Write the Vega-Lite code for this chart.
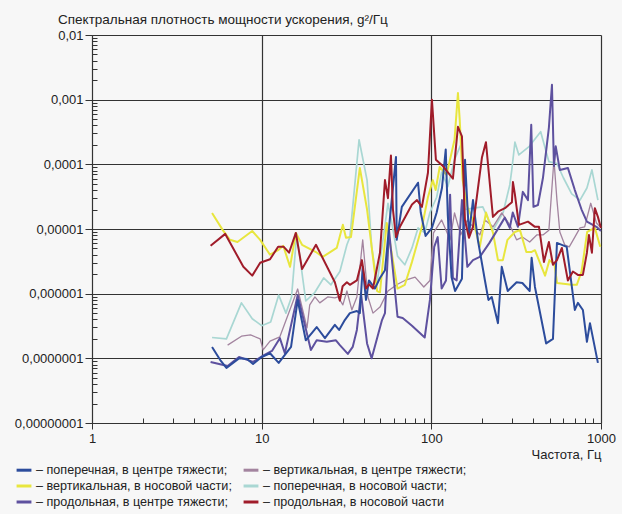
{
"$schema": "https://vega.github.io/schema/vega-lite/v6.json",
"width": 509, "height": 388,
"autosize": {"type": "none"},
"padding": {"left": 92, "top": 35, "right": 21, "bottom": 91},
"background": "#f7f7f7",
"config": {"view": {"stroke": null}, "font": "Liberation Sans"},
"title": {"text": "Спектральная плотность мощности ускорения, g²/Гц", "anchor": "start", "frame": "group", "dx": -34, "offset": 3, "fontSize": 13.5, "fontWeight": "normal", "color": "#222"},
"data": {"values": [
{"freq":5.1,"psd":2.1e-7,"series":"поперечная, в носовой части"},
{"freq":6.2,"psd":2.0e-7,"series":"поперечная, в носовой части"},
{"freq":7.6,"psd":7.2e-7,"series":"поперечная, в носовой части"},
{"freq":8.8,"psd":4.1e-7,"series":"поперечная, в носовой части"},
{"freq":10.0,"psd":3.2e-7,"series":"поперечная, в носовой части"},
{"freq":11.3,"psd":3.65e-7,"series":"поперечная, в носовой части"},
{"freq":12.6,"psd":9.5e-7,"series":"поперечная, в носовой части"},
{"freq":13.9,"psd":5.0e-7,"series":"поперечная, в носовой части"},
{"freq":15.0,"psd":8.9e-7,"series":"поперечная, в носовой части"},
{"freq":16.1,"psd":8.4e-6,"series":"поперечная, в носовой части"},
{"freq":18.2,"psd":7.7e-7,"series":"поперечная, в носовой части"},
{"freq":20.6,"psd":1.05e-6,"series":"поперечная, в носовой части"},
{"freq":23.2,"psd":1.75e-6,"series":"поперечная, в носовой части"},
{"freq":25.6,"psd":1.37e-6,"series":"поперечная, в носовой части"},
{"freq":28.9,"psd":2.2e-6,"series":"поперечная, в носовой части"},
{"freq":31.8,"psd":5.7e-6,"series":"поперечная, в носовой части"},
{"freq":33.1,"psd":7.5e-6,"series":"поперечная, в носовой части"},
{"freq":37.5,"psd":2.4e-4,"series":"поперечная, в носовой части"},
{"freq":41.8,"psd":5.7e-5,"series":"поперечная, в носовой части"},
{"freq":44.5,"psd":5.3e-6,"series":"поперечная, в носовой части"},
{"freq":47.9,"psd":1.46e-6,"series":"поперечная, в носовой части"},
{"freq":55.5,"psd":2.5e-5,"series":"поперечная, в носовой части"},
{"freq":58.5,"psd":1.24e-5,"series":"поперечная, в носовой части"},
{"freq":63.2,"psd":3.8e-6,"series":"поперечная, в носовой части"},
{"freq":69.8,"psd":2.8e-6,"series":"поперечная, в носовой части"},
{"freq":76.9,"psd":5.1e-6,"series":"поперечная, в носовой части"},
{"freq":83.5,"psd":1.04e-5,"series":"поперечная, в носовой части"},
{"freq":91.4,"psd":8.7e-6,"series":"поперечная, в носовой части"},
{"freq":98.1,"psd":1.8e-5,"series":"поперечная, в носовой части"},
{"freq":107.5,"psd":3.1e-5,"series":"поперечная, в носовой части"},
{"freq":115,"psd":7.6e-5,"series":"поперечная, в носовой части"},
{"freq":125,"psd":4.5e-5,"series":"поперечная, в носовой части"},
{"freq":137,"psd":1.18e-4,"series":"поперечная, в носовой части"},
{"freq":151.5,"psd":2.2e-4,"series":"поперечная, в носовой части"},
{"freq":158,"psd":2.0e-5,"series":"поперечная, в носовой части"},
{"freq":176,"psd":2.1e-5,"series":"поперечная, в носовой части"},
{"freq":201,"psd":2.2e-5,"series":"поперечная, в носовой части"},
{"freq":231,"psd":9.6e-6,"series":"поперечная, в носовой части"},
{"freq":265,"psd":1.8e-5,"series":"поперечная, в носовой части"},
{"freq":290,"psd":4.8e-5,"series":"поперечная, в носовой части"},
{"freq":298,"psd":8.2e-5,"series":"поперечная, в носовой части"},
{"freq":311,"psd":2.2e-4,"series":"поперечная, в носовой части"},
{"freq":328,"psd":1.4e-4,"series":"поперечная, в носовой части"},
{"freq":378,"psd":1.9e-4,"series":"поперечная, в носовой части"},
{"freq":441,"psd":3.2e-4,"series":"поперечная, в носовой части"},
{"freq":493,"psd":1.1e-4,"series":"поперечная, в носовой части"},
{"freq":550,"psd":1.03e-4,"series":"поперечная, в носовой части"},
{"freq":600,"psd":6.2e-5,"series":"поперечная, в носовой части"},
{"freq":672,"psd":3.5e-5,"series":"поперечная, в носовой части"},
{"freq":752,"psd":2.8e-5,"series":"поперечная, в носовой части"},
{"freq":826,"psd":4.3e-5,"series":"поперечная, в носовой части"},
{"freq":884,"psd":8.2e-5,"series":"поперечная, в носовой части"},
{"freq":959,"psd":2.8e-5,"series":"поперечная, в носовой части"},

{"freq":6.3,"psd":1.6e-7,"series":"вертикальная, в центре тяжести"},
{"freq":7.6,"psd":2.2e-7,"series":"вертикальная, в центре тяжести"},
{"freq":8.6,"psd":2.3e-7,"series":"вертикальная, в центре тяжести"},
{"freq":9.8,"psd":2.0e-7,"series":"вертикальная, в центре тяжести"},
{"freq":10.2,"psd":1.35e-7,"series":"вертикальная, в центре тяжести"},
{"freq":11.2,"psd":1.85e-7,"series":"вертикальная, в центре тяжести"},
{"freq":12.8,"psd":2.15e-7,"series":"вертикальная, в центре тяжести"},
{"freq":16.3,"psd":1.18e-6,"series":"вертикальная, в центре тяжести"},
{"freq":18.5,"psd":2.95e-7,"series":"вертикальная, в центре тяжести"},
{"freq":19.2,"psd":6.7e-7,"series":"вертикальная, в центре тяжести"},
{"freq":20.6,"psd":8.9e-7,"series":"вертикальная, в центре тяжести"},
{"freq":22.0,"psd":7.2e-7,"series":"вертикальная, в центре тяжести"},
{"freq":24.5,"psd":8.9e-7,"series":"вертикальная, в центре тяжести"},
{"freq":27.0,"psd":8.6e-7,"series":"вертикальная, в центре тяжести"},
{"freq":28.2,"psd":8.9e-7,"series":"вертикальная, в центре тяжести"},
{"freq":30.1,"psd":6.7e-7,"series":"вертикальная, в центре тяжести"},
{"freq":31.8,"psd":1.1e-6,"series":"вертикальная, в центре тяжести"},
{"freq":34.0,"psd":5.6e-7,"series":"вертикальная, в центре тяжести"},
{"freq":36.4,"psd":8.9e-7,"series":"вертикальная, в центре тяжести"},
{"freq":39.4,"psd":6.8e-6,"series":"вертикальная, в центре тяжести"},
{"freq":42.3,"psd":8.9e-7,"series":"вертикальная, в центре тяжести"},
{"freq":45.3,"psd":5.0e-7,"series":"вертикальная, в центре тяжести"},
{"freq":49.8,"psd":6.2e-7,"series":"вертикальная, в центре тяжести"},
{"freq":55.5,"psd":1.1e-6,"series":"вертикальная, в центре тяжести"},
{"freq":63.2,"psd":1.4e-6,"series":"вертикальная, в центре тяжести"},
{"freq":69.8,"psd":1.6e-6,"series":"вертикальная, в центре тяжести"},
{"freq":80.2,"psd":1.8e-6,"series":"вертикальная, в центре тяжести"},
{"freq":90.3,"psd":1.27e-6,"series":"вертикальная, в центре тяжести"},
{"freq":98.1,"psd":1.6e-6,"series":"вертикальная, в центре тяжести"},
{"freq":103,"psd":8.7e-6,"series":"вертикальная, в центре тяжести"},
{"freq":115,"psd":1.38e-5,"series":"вертикальная, в центре тяжести"},
{"freq":129,"psd":6.8e-6,"series":"вертикальная, в центре тяжести"},
{"freq":137,"psd":1.77e-5,"series":"вертикальная, в центре тяжести"},
{"freq":149,"psd":8.1e-6,"series":"вертикальная, в центре тяжести"},
{"freq":163,"psd":1.38e-5,"series":"вертикальная, в центре тяжести"},
{"freq":176,"psd":1.08e-5,"series":"вертикальная, в центре тяжести"},
{"freq":193,"psd":8.1e-6,"series":"вертикальная, в центре тяжести"},
{"freq":207,"psd":1.38e-5,"series":"вертикальная, в центре тяжести"},
{"freq":231,"psd":1.08e-5,"series":"вертикальная, в центре тяжести"},
{"freq":260,"psd":1.77e-5,"series":"вертикальная, в центре тяжести"},
{"freq":290,"psd":1.16e-5,"series":"вертикальная, в центре тяжести"},
{"freq":318,"psd":6.8e-6,"series":"вертикальная, в центре тяжести"},
{"freq":344,"psd":7.5e-6,"series":"вертикальная, в центре тяжести"},
{"freq":380,"psd":6.3e-6,"series":"вертикальная, в центре тяжести"},
{"freq":418,"psd":8.1e-6,"series":"вертикальная, в центре тяжести"},
{"freq":455,"psd":8.1e-6,"series":"вертикальная, в центре тяжести"},
{"freq":493,"psd":9.6e-6,"series":"вертикальная, в центре тяжести"},
{"freq":528,"psd":1.18e-4,"series":"вертикальная, в центре тяжести"},
{"freq":550,"psd":2.8e-5,"series":"вертикальная, в центре тяжести"},
{"freq":572,"psd":9.0e-6,"series":"вертикальная, в центре тяжести"},
{"freq":611,"psd":5.7e-6,"series":"вертикальная, в центре тяжести"},
{"freq":650,"psd":5.3e-6,"series":"вертикальная, в центре тяжести"},
{"freq":701,"psd":7.5e-6,"series":"вертикальная, в центре тяжести"},
{"freq":752,"psd":1.04e-5,"series":"вертикальная, в центре тяжести"},
{"freq":801,"psd":1.08e-5,"series":"вертикальная, в центре тяжести"},
{"freq":870,"psd":2.5e-5,"series":"вертикальная, в центре тяжести"},
{"freq":940,"psd":1.24e-5,"series":"вертикальная, в центре тяжести"},
{"freq":999,"psd":1.04e-5,"series":"вертикальная, в центре тяжести"},

{"freq":5.1,"psd":1.77e-5,"series":"вертикальная, в носовой части"},
{"freq":5.9,"psd":9.6e-6,"series":"вертикальная, в носовой части"},
{"freq":6.5,"psd":6.8e-6,"series":"вертикальная, в носовой части"},
{"freq":7.2,"psd":6.3e-6,"series":"вертикальная, в носовой части"},
{"freq":8.8,"psd":9.3e-6,"series":"вертикальная, в носовой части"},
{"freq":9.8,"psd":6.8e-6,"series":"вертикальная, в носовой части"},
{"freq":11.2,"psd":4.0e-6,"series":"вертикальная, в носовой части"},
{"freq":12.5,"psd":4.7e-6,"series":"вертикальная, в носовой части"},
{"freq":13.4,"psd":5.5e-6,"series":"вертикальная, в носовой части"},
{"freq":14.7,"psd":2.6e-6,"series":"вертикальная, в носовой части"},
{"freq":15.9,"psd":8.7e-6,"series":"вертикальная, в носовой части"},
{"freq":17.3,"psd":5.7e-6,"series":"вертикальная, в носовой части"},
{"freq":20.9,"psd":4.4e-6,"series":"вертикальная, в носовой части"},
{"freq":22.9,"psd":3.7e-6,"series":"вертикальная, в носовой части"},
{"freq":27.7,"psd":5.1e-6,"series":"вертикальная, в носовой части"},
{"freq":30.1,"psd":1.16e-5,"series":"вертикальная, в носовой части"},
{"freq":31.4,"psd":7.3e-6,"series":"вертикальная, в носовой части"},
{"freq":33.6,"psd":7.5e-6,"series":"вертикальная, в носовой части"},
{"freq":37.9,"psd":8.8e-5,"series":"вертикальная, в носовой части"},
{"freq":41.8,"psd":2.0e-5,"series":"вертикальная, в носовой части"},
{"freq":47.9,"psd":1.1e-6,"series":"вертикальная, в носовой части"},
{"freq":49.8,"psd":1.05e-6,"series":"вертикальная, в носовой части"},
{"freq":54.6,"psd":1.24e-5,"series":"вертикальная, в носовой части"},
{"freq":63.2,"psd":1.2e-6,"series":"вертикальная, в носовой части"},
{"freq":69.8,"psd":1.37e-6,"series":"вертикальная, в носовой части"},
{"freq":76.9,"psd":3.1e-6,"series":"вертикальная, в носовой части"},
{"freq":88,"psd":1.08e-5,"series":"вертикальная, в носовой части"},
{"freq":95.5,"psd":3.1e-5,"series":"вертикальная, в носовой части"},
{"freq":102,"psd":5.7e-5,"series":"вертикальная, в носовой части"},
{"freq":106,"psd":4.0e-5,"series":"вертикальная, в носовой части"},
{"freq":112,"psd":9.1e-5,"series":"вертикальная, в носовой части"},
{"freq":123,"psd":6.9e-5,"series":"вертикальная, в носовой части"},
{"freq":137,"psd":2.4e-4,"series":"вертикальная, в носовой части"},
{"freq":143.5,"psd":1.27e-3,"series":"вертикальная, в носовой части"},
{"freq":147,"psd":4.9e-4,"series":"вертикальная, в носовой части"},
{"freq":153,"psd":5.7e-5,"series":"вертикальная, в носовой части"},
{"freq":163,"psd":2.2e-5,"series":"вертикальная, в носовой части"},
{"freq":176,"psd":1.38e-5,"series":"вертикальная, в носовой части"},
{"freq":193,"psd":5.3e-6,"series":"вертикальная, в носовой части"},
{"freq":210,"psd":1.8e-5,"series":"вертикальная, в носовой части"},
{"freq":231,"psd":8.7e-6,"series":"вертикальная, в носовой части"},
{"freq":247,"psd":3.3e-6,"series":"вертикальная, в носовой части"},
{"freq":264,"psd":3.3e-6,"series":"вертикальная, в носовой части"},
{"freq":281,"psd":6.8e-6,"series":"вертикальная, в носовой части"},
{"freq":311,"psd":9.0e-6,"series":"вертикальная, в носовой части"},
{"freq":333,"psd":9.6e-6,"series":"вертикальная, в носовой части"},
{"freq":363,"psd":4.4e-6,"series":"вертикальная, в носовой части"},
{"freq":388,"psd":4.4e-6,"series":"вертикальная, в носовой части"},
{"freq":408,"psd":4.7e-6,"series":"вертикальная, в носовой части"},
{"freq":468,"psd":1.9e-6,"series":"вертикальная, в носовой части"},
{"freq":497,"psd":3.3e-6,"series":"вертикальная, в носовой части"},
{"freq":532,"psd":2.8e-6,"series":"вертикальная, в носовой части"},
{"freq":551,"psd":1.46e-6,"series":"вертикальная, в носовой части"},
{"freq":672,"psd":1.37e-6,"series":"вертикальная, в носовой части"},
{"freq":720,"psd":1.37e-6,"series":"вертикальная, в носовой части"},
{"freq":768,"psd":2.2e-6,"series":"вертикальная, в носовой части"},
{"freq":829,"psd":9.0e-6,"series":"вертикальная, в носовой части"},
{"freq":920,"psd":1.04e-5,"series":"вертикальная, в носовой части"},
{"freq":990,"psd":5.3e-6,"series":"вертикальная, в носовой части"},

{"freq":5.0,"psd":8.8e-8,"series":"продольная, в центре тяжести"},
{"freq":6.3,"psd":7.6e-8,"series":"продольная, в центре тяжести"},
{"freq":7.35,"psd":1.05e-7,"series":"продольная, в центре тяжести"},
{"freq":8.9,"psd":8.8e-8,"series":"продольная, в центре тяжести"},
{"freq":10.2,"psd":1.1e-7,"series":"продольная, в центре тяжести"},
{"freq":11.5,"psd":1.3e-7,"series":"продольная, в центре тяжести"},
{"freq":12.8,"psd":2.05e-7,"series":"продольная, в центре тяжести"},
{"freq":13.7,"psd":1.2e-7,"series":"продольная, в центре тяжести"},
{"freq":16.3,"psd":9.5e-7,"series":"продольная, в центре тяжести"},
{"freq":19.5,"psd":1.35e-7,"series":"продольная, в центре тяжести"},
{"freq":21.1,"psd":1.9e-7,"series":"продольная, в центре тяжести"},
{"freq":24.2,"psd":1.8e-7,"series":"продольная, в центре тяжести"},
{"freq":27.4,"psd":1.9e-7,"series":"продольная, в центре тяжести"},
{"freq":28.9,"psd":1.6e-7,"series":"продольная, в центре тяжести"},
{"freq":32.2,"psd":1.17e-7,"series":"продольная, в центре тяжести"},
{"freq":34.4,"psd":1.5e-7,"series":"продольная, в центре тяжести"},
{"freq":36.4,"psd":2.75e-7,"series":"продольная, в центре тяжести"},
{"freq":38.5,"psd":1.0e-6,"series":"продольная, в центре тяжести"},
{"freq":41.8,"psd":1.7e-7,"series":"продольная, в центре тяжести"},
{"freq":44.5,"psd":1.0e-7,"series":"продольная, в центре тяжести"},
{"freq":51.2,"psd":3.9e-7,"series":"продольная, в центре тяжести"},
{"freq":53.3,"psd":5.0e-7,"series":"продольная, в центре тяжести"},
{"freq":56.3,"psd":9.6e-6,"series":"продольная, в центре тяжести"},
{"freq":59.4,"psd":2.3e-6,"series":"продольная, в центре тяжести"},
{"freq":63.2,"psd":4.4e-7,"series":"продольная, в центре тяжести"},
{"freq":67.8,"psd":4.2e-7,"series":"продольная, в центре тяжести"},
{"freq":76.9,"psd":3.2e-7,"series":"продольная, в центре тяжести"},
{"freq":91.4,"psd":2.1e-7,"series":"продольная, в центре тяжести"},
{"freq":98.1,"psd":8.0e-7,"series":"продольная, в центре тяжести"},
{"freq":104,"psd":5.3e-6,"series":"продольная, в центре тяжести"},
{"freq":109,"psd":7.5e-6,"series":"продольная, в центре тяжести"},
{"freq":115,"psd":1.2e-6,"series":"продольная, в центре тяжести"},
{"freq":122,"psd":1.6e-6,"series":"продольная, в центре тяжести"},
{"freq":129,"psd":3.4e-5,"series":"продольная, в центре тяжести"},
{"freq":134,"psd":1.75e-6,"series":"продольная, в центре тяжести"},
{"freq":141,"psd":1.6e-6,"series":"продольная, в центре тяжести"},
{"freq":151.5,"psd":2.8e-5,"series":"продольная, в центре тяжести"},
{"freq":163,"psd":2.6e-6,"series":"продольная, в центре тяжести"},
{"freq":176,"psd":3.3e-6,"series":"продольная, в центре тяжести"},
{"freq":193,"psd":3.7e-6,"series":"продольная, в центре тяжести"},
{"freq":220,"psd":6.1e-6,"series":"продольная, в центре тяжести"},
{"freq":271,"psd":1.5e-5,"series":"продольная, в центре тяжести"},
{"freq":290,"psd":1.04e-5,"series":"продольная, в центре тяжести"},
{"freq":302,"psd":1.8e-5,"series":"продольная, в центре тяжести"},
{"freq":324,"psd":1.08e-5,"series":"продольная, в центре тяжести"},
{"freq":346,"psd":3.75e-5,"series":"продольная, в центре тяжести"},
{"freq":371,"psd":2.8e-5,"series":"продольная, в центре тяжести"},
{"freq":388,"psd":4.1e-4,"series":"продольная, в центре тяжести"},
{"freq":400,"psd":2.2e-5,"series":"продольная, в центре тяжести"},
{"freq":425,"psd":2.35e-5,"series":"продольная, в центре тяжести"},
{"freq":455,"psd":6.2e-5,"series":"продольная, в центре тяжести"},
{"freq":493,"psd":3.7e-4,"series":"продольная, в центре тяжести"},
{"freq":514,"psd":1.7e-3,"series":"продольная, в центре тяжести"},
{"freq":528,"psd":9.4e-5,"series":"продольная, в центре тяжести"},
{"freq":541,"psd":1.9e-4,"series":"продольная, в центре тяжести"},
{"freq":572,"psd":8.2e-5,"series":"продольная, в центре тяжести"},
{"freq":638,"psd":8.8e-5,"series":"продольная, в центре тяжести"},
{"freq":701,"psd":4.0e-5,"series":"продольная, в центре тяжести"},
{"freq":768,"psd":2.0e-5,"series":"продольная, в центре тяжести"},
{"freq":826,"psd":1.3e-5,"series":"продольная, в центре тяжести"},
{"freq":940,"psd":1.08e-5,"series":"продольная, в центре тяжести"},
{"freq":999,"psd":9.3e-6,"series":"продольная, в центре тяжести"},

{"freq":5.1,"psd":1.5e-7,"series":"поперечная, в центре тяжести"},
{"freq":5.7,"psd":9.4e-8,"series":"поперечная, в центре тяжести"},
{"freq":6.2,"psd":7.1e-8,"series":"поперечная, в центре тяжести"},
{"freq":7.35,"psd":1.0e-7,"series":"поперечная, в центре тяжести"},
{"freq":8.2,"psd":9.8e-8,"series":"поперечная, в центре тяжести"},
{"freq":8.9,"psd":8.2e-8,"series":"поперечная, в центре тяжести"},
{"freq":10.0,"psd":1.05e-7,"series":"поперечная, в центре тяжести"},
{"freq":11.2,"psd":1.2e-7,"series":"поперечная, в центре тяжести"},
{"freq":12.6,"psd":8.5e-8,"series":"поперечная, в центре тяжести"},
{"freq":14.9,"psd":1.5e-7,"series":"поперечная, в центре тяжести"},
{"freq":16.3,"psd":8.0e-7,"series":"поперечная, в центре тяжести"},
{"freq":18.2,"psd":1.9e-7,"series":"поперечная, в центре тяжести"},
{"freq":21.1,"psd":3.05e-7,"series":"поперечная, в центре тяжести"},
{"freq":23.6,"psd":2.05e-7,"series":"поперечная, в центре тяжести"},
{"freq":27.0,"psd":3.3e-7,"series":"поперечная, в центре тяжести"},
{"freq":28.6,"psd":2.75e-7,"series":"поперечная, в центре тяжести"},
{"freq":30.9,"psd":3.9e-7,"series":"поперечная, в центре тяжести"},
{"freq":33.1,"psd":5.0e-7,"series":"поперечная, в центре тяжести"},
{"freq":36.4,"psd":5.4e-7,"series":"поперечная, в центре тяжести"},
{"freq":37.9,"psd":5.0e-7,"series":"поперечная, в центре тяжести"},
{"freq":39.4,"psd":2.6e-6,"series":"поперечная, в центре тяжести"},
{"freq":41.2,"psd":8.0e-7,"series":"поперечная, в центре тяжести"},
{"freq":42.9,"psd":1.6e-6,"series":"поперечная, в центре тяжести"},
{"freq":46.5,"psd":1.2e-6,"series":"поперечная, в центре тяжести"},
{"freq":49.8,"psd":1.75e-6,"series":"поперечная, в центре тяжести"},
{"freq":53.3,"psd":2.3e-6,"series":"поперечная, в центре тяжести"},
{"freq":56.9,"psd":1.38e-5,"series":"поперечная, в центре тяжести"},
{"freq":61.9,"psd":1.3e-4,"series":"поперечная, в центре тяжести"},
{"freq":62.5,"psd":6.8e-6,"series":"поперечная, в центре тяжести"},
{"freq":67.0,"psd":2.2e-5,"series":"поперечная, в центре тяжести"},
{"freq":83.5,"psd":5.2e-5,"series":"поперечная, в центре тяжести"},
{"freq":86.6,"psd":1.8e-5,"series":"поперечная, в центре тяжести"},
{"freq":92.5,"psd":7.8e-6,"series":"поперечная, в центре тяжести"},
{"freq":100.8,"psd":1.04e-5,"series":"поперечная, в центре тяжести"},
{"freq":107.5,"psd":1.8e-5,"series":"поперечная, в центре тяжести"},
{"freq":115.5,"psd":4.3e-5,"series":"поперечная, в центре тяжести"},
{"freq":121.6,"psd":1.7e-4,"series":"поперечная, в центре тяжести"},
{"freq":125,"psd":1.65e-5,"series":"поперечная, в центре тяжести"},
{"freq":131.6,"psd":1.8e-6,"series":"поперечная, в центре тяжести"},
{"freq":138,"psd":1.1e-6,"series":"поперечная, в центре тяжести"},
{"freq":151.5,"psd":1.7e-6,"series":"поперечная, в центре тяжести"},
{"freq":158,"psd":1.18e-4,"series":"поперечная, в центре тяжести"},
{"freq":166.6,"psd":8.1e-6,"series":"поперечная, в центре тяжести"},
{"freq":176,"psd":2.8e-5,"series":"поперечная, в центре тяжести"},
{"freq":188,"psd":6.8e-6,"series":"поперечная, в центре тяжести"},
{"freq":207,"psd":1.6e-6,"series":"поперечная, в центре тяжести"},
{"freq":217,"psd":8.0e-7,"series":"поперечная, в центре тяжести"},
{"freq":227,"psd":8.9e-7,"series":"поперечная, в центре тяжести"},
{"freq":247,"psd":3.5e-7,"series":"поперечная, в центре тяжести"},
{"freq":260,"psd":2.6e-6,"series":"поперечная, в центре тяжести"},
{"freq":282,"psd":1.1e-6,"series":"поперечная, в центре тяжести"},
{"freq":318,"psd":1.5e-6,"series":"поперечная, в центре тяжести"},
{"freq":344,"psd":1.46e-6,"series":"поперечная, в центре тяжести"},
{"freq":380,"psd":1.1e-6,"series":"поперечная, в центре тяжести"},
{"freq":390,"psd":3.6e-6,"series":"поперечная, в центре тяжести"},
{"freq":408,"psd":1.27e-6,"series":"поперечная, в центре тяжести"},
{"freq":475,"psd":1.7e-7,"series":"поперечная, в центре тяжести"},
{"freq":521,"psd":2.0e-7,"series":"поперечная, в центре тяжести"},
{"freq":550,"psd":6.1e-6,"series":"поперечная, в центре тяжести"},
{"freq":628,"psd":5.3e-6,"series":"поперечная, в центре тяжести"},
{"freq":701,"psd":5.6e-7,"series":"поперечная, в центре тяжести"},
{"freq":731,"psd":7.2e-7,"series":"поперечная, в центре тяжести"},
{"freq":782,"psd":5.6e-7,"series":"поперечная, в центре тяжести"},
{"freq":826,"psd":1.8e-7,"series":"поперечная, в центре тяжести"},
{"freq":861,"psd":3.5e-7,"series":"поперечная, в центре тяжести"},
{"freq":959,"psd":8.5e-8,"series":"поперечная, в центре тяжести"},

{"freq":5.0,"psd":5.5e-6,"series":"продольная, в носовой части"},
{"freq":6.1,"psd":8.4e-6,"series":"продольная, в носовой части"},
{"freq":7.8,"psd":2.6e-6,"series":"продольная, в носовой части"},
{"freq":8.8,"psd":1.9e-6,"series":"продольная, в носовой части"},
{"freq":9.8,"psd":3.0e-6,"series":"продольная, в носовой части"},
{"freq":11.2,"psd":3.4e-6,"series":"продольная, в носовой части"},
{"freq":12.5,"psd":5.3e-6,"series":"продольная, в носовой части"},
{"freq":13.5,"psd":5.3e-6,"series":"продольная, в носовой части"},
{"freq":14.5,"psd":4.3e-6,"series":"продольная, в носовой части"},
{"freq":15.9,"psd":8.7e-6,"series":"продольная, в носовой части"},
{"freq":17.3,"psd":2.4e-6,"series":"продольная, в носовой части"},
{"freq":20.9,"psd":5.7e-6,"series":"продольная, в носовой части"},
{"freq":27.0,"psd":1.5e-6,"series":"продольная, в носовой части"},
{"freq":28.9,"psd":7.8e-7,"series":"продольная, в носовой части"},
{"freq":30.0,"psd":1.3e-6,"series":"продольная, в носовой части"},
{"freq":31.8,"psd":1.5e-6,"series":"продольная, в носовой части"},
{"freq":33.1,"psd":1.37e-6,"series":"продольная, в носовой части"},
{"freq":36.4,"psd":1.6e-6,"series":"продольная, в носовой части"},
{"freq":39.0,"psd":3.3e-6,"series":"продольная, в носовой части"},
{"freq":41.2,"psd":1.2e-6,"series":"продольная, в носовой части"},
{"freq":42.9,"psd":1.4e-6,"series":"продольная, в носовой части"},
{"freq":45.3,"psd":1.2e-6,"series":"продольная, в носовой части"},
{"freq":49.8,"psd":4.3e-6,"series":"продольная, в носовой части"},
{"freq":53.3,"psd":5.7e-5,"series":"продольная, в носовой части"},
{"freq":55.5,"psd":3.0e-5,"series":"продольная, в носовой части"},
{"freq":57.8,"psd":1.37e-4,"series":"продольная, в носовой части"},
{"freq":59.4,"psd":2.0e-5,"series":"продольная, в носовой части"},
{"freq":61.9,"psd":7.5e-6,"series":"продольная, в носовой части"},
{"freq":65.3,"psd":1.08e-5,"series":"продольная, в носовой части"},
{"freq":76.9,"psd":2.4e-5,"series":"продольная, в носовой части"},
{"freq":82.3,"psd":2.8e-5,"series":"продольная, в носовой части"},
{"freq":88,"psd":2.2e-5,"series":"продольная, в носовой части"},
{"freq":95.5,"psd":7.4e-5,"series":"продольная, в носовой части"},
{"freq":100.8,"psd":1.0e-3,"series":"продольная, в носовой части"},
{"freq":106.4,"psd":1.18e-4,"series":"продольная, в носовой части"},
{"freq":117,"psd":9.4e-5,"series":"продольная, в носовой части"},
{"freq":134,"psd":6.0e-5,"series":"продольная, в носовой части"},
{"freq":143.5,"psd":3.8e-4,"series":"продольная, в носовой части"},
{"freq":151.5,"psd":2.7e-4,"series":"продольная, в носовой части"},
{"freq":157.8,"psd":1.38e-5,"series":"продольная, в носовой части"},
{"freq":166.6,"psd":7.3e-6,"series":"продольная, в носовой части"},
{"freq":175.9,"psd":1.08e-5,"series":"продольная, в носовой части"},
{"freq":198.7,"psd":1.27e-4,"series":"продольная, в носовой части"},
{"freq":209.8,"psd":2.2e-4,"series":"продольная, в носовой части"},
{"freq":230.7,"psd":1.54e-5,"series":"продольная, в носовой части"},
{"freq":246.9,"psd":1.85e-5,"series":"продольная, в носовой части"},
{"freq":271.5,"psd":2.1e-5,"series":"продольная, в носовой части"},
{"freq":298.5,"psd":2.6e-5,"series":"продольная, в носовой части"},
{"freq":302.6,"psd":5.35e-5,"series":"продольная, в носовой части"},
{"freq":311,"psd":3.4e-5,"series":"продольная, в носовой части"},
{"freq":328,"psd":1.16e-5,"series":"продольная, в носовой части"},
{"freq":371,"psd":1.3e-5,"series":"продольная, в носовой части"},
{"freq":408,"psd":1.08e-5,"series":"продольная, в носовой части"},
{"freq":431,"psd":1.08e-5,"series":"продольная, в носовой части"},
{"freq":461,"psd":3.1e-6,"series":"продольная, в носовой части"},
{"freq":493,"psd":6.3e-6,"series":"продольная, в носовой части"},
{"freq":521,"psd":2.8e-6,"series":"продольная, в носовой части"},
{"freq":550,"psd":3.3e-6,"series":"продольная, в носовой части"},
{"freq":588,"psd":5.1e-6,"series":"продольная, в носовой части"},
{"freq":638,"psd":1.6e-6,"series":"продольная, в носовой части"},
{"freq":683,"psd":2.2e-6,"series":"продольная, в носовой части"},
{"freq":731,"psd":1.95e-6,"series":"продольная, в носовой части"},
{"freq":782,"psd":1.95e-6,"series":"продольная, в носовой части"},
{"freq":826,"psd":4.3e-6,"series":"продольная, в носовой части"},
{"freq":849,"psd":8.1e-6,"series":"продольная, в носовой части"},
{"freq":884,"psd":4.3e-6,"series":"продольная, в носовой части"},
{"freq":920,"psd":2.1e-5,"series":"продольная, в носовой части"},
{"freq":959,"psd":1.54e-5,"series":"продольная, в носовой части"},
{"freq":999,"psd":1.04e-5,"series":"продольная, в носовой части"}
]},
"mark": {"type": "line", "interpolate": "linear", "strokeJoin": "round"},
"encoding": {
"x": {"field": "freq", "type": "quantitative",
 "scale": {"type": "log", "domain": [1, 1000], "nice": false},
 "axis": {"values": [1,2,3,4,5,6,7,8,9,10,20,30,40,50,60,70,80,90,100,200,300,400,500,600,700,800,900,1000],
  "labelExpr": "abs(log(datum.value)/LN10 - round(log(datum.value)/LN10)) < 0.01 ? format(datum.value, 'd') : ''",
  "labelOverlap": false, "labelFlush": false, "labelBound": false,
  "tickSize": {"condition": {"test": "abs(log(datum.value)/LN10 - round(log(datum.value)/LN10)) > 0.01", "value": -5}, "value": 6},
  "gridOpacity": {"condition": {"test": "abs(log(datum.value)/LN10 - round(log(datum.value)/LN10)) > 0.01", "value": 0}, "value": 1},
  "grid": true, "gridColor": "#333333", "gridWidth": 1.2,
  "domainColor": "#333333", "tickColor": "#333333",
  "labelFontSize": 13, "labelColor": "#222222", "labelPadding": 3,
  "title": "Частота, Гц", "titleAnchor": "end", "titleFontWeight": "normal", "titleFontSize": 13, "titleColor": "#222222", "titlePadding": 3}},
"y": {"field": "psd", "type": "quantitative",
 "scale": {"type": "log", "domain": [1e-8, 0.01], "nice": false},
 "axis": {"values": [1e-8,2e-8,3e-8,4e-8,5e-8,6e-8,7e-8,8e-8,9e-8,1e-7,2e-7,3e-7,4e-7,5e-7,6e-7,7e-7,8e-7,9e-7,1e-6,2e-6,3e-6,4e-6,5e-6,6e-6,7e-6,8e-6,9e-6,1e-5,2e-5,3e-5,4e-5,5e-5,6e-5,7e-5,8e-5,9e-5,1e-4,2e-4,3e-4,4e-4,5e-4,6e-4,7e-4,8e-4,9e-4,0.001,0.002,0.003,0.004,0.005,0.006,0.007,0.008,0.009,0.01],
  "labelExpr": "abs(log(datum.value)/LN10 - round(log(datum.value)/LN10)) < 0.01 ? replace(format(datum.value, '.8~f'), '.', ',') : ''",
  "labelOverlap": false, "labelFlush": false, "labelBound": false,
  "tickSize": {"condition": {"test": "abs(log(datum.value)/LN10 - round(log(datum.value)/LN10)) > 0.01", "value": -5}, "value": 7},
  "gridOpacity": {"condition": {"test": "abs(log(datum.value)/LN10 - round(log(datum.value)/LN10)) > 0.01", "value": 0}, "value": 1},
  "grid": true, "gridColor": "#333333", "gridWidth": 1.2,
  "domainColor": "#333333", "tickColor": "#333333",
  "labelFontSize": 13, "labelColor": "#222222", "labelPadding": 2,
  "title": null}},
"color": {"field": "series", "type": "nominal",
 "scale": {"domain": ["поперечная, в центре тяжести", "вертикальная, в носовой части", "продольная, в центре тяжести", "вертикальная, в центре тяжести", "поперечная, в носовой части", "продольная, в носовой части"],
  "range": ["#2c4c9c", "#e8e63e", "#5e519f", "#a3849f", "#a9d7d3", "#a01c2a"]},
 "legend": {"orient": "none", "legendX": -77, "legendY": 426, "columns": 2, "title": null,
  "symbolType": "stroke", "symbolSize": 220, "symbolStrokeWidth": 3,
  "labelFontSize": 12.6, "labelColor": "#222222", "labelOffset": 3, "rowPadding": 0, "columnPadding": 5,
  "labelLimit": 400,
  "labelExpr": "'– ' + datum.label + (datum.label == 'продольная, в носовой части' ? '' : ';')"}},
"strokeWidth": {"field": "series", "type": "nominal",
 "scale": {"type": "ordinal", "domain": ["поперечная, в центре тяжести", "вертикальная, в центре тяжести", "вертикальная, в носовой части", "поперечная, в носовой части", "продольная, в центре тяжести", "продольная, в носовой части"],
  "range": [2, 1.3, 2, 1.7, 2, 2]},
 "legend": null}
}
}
